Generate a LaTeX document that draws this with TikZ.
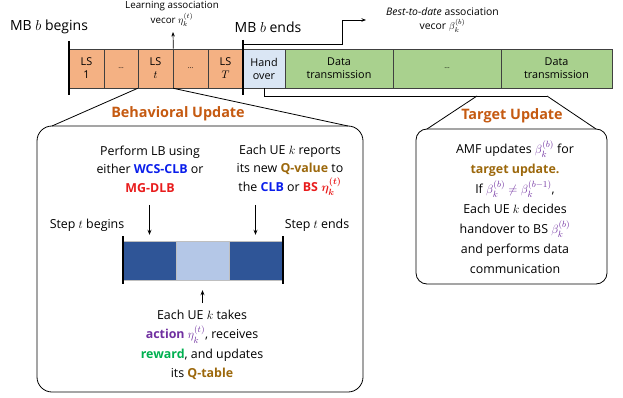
\documentclass[tikz,border=0pt]{standalone}
\usepackage{amsmath,amssymb}
\usepackage{fontspec}
\setmainfont{Open Sans}
\usetikzlibrary{arrows.meta}
\definecolor{cellorange}{HTML}{F4B183}
\definecolor{cellblue}{HTML}{DAE6F4}
\definecolor{cellgreen}{HTML}{A9D18E}
\definecolor{titleorange}{HTML}{C55A11}
\definecolor{qbrown}{RGB}{156,104,12}
\definecolor{kblue}{RGB}{10,30,235}
\definecolor{kred}{RGB}{232,28,28}
\definecolor{kpurple}{HTML}{7030A0}
\definecolor{kgreen}{HTML}{00B050}
\definecolor{bardark}{HTML}{2F5597}
\definecolor{barlight}{HTML}{B4C7E7}
\tikzset{
  cell/.style={draw=black!75, line width=0.6pt, minimum height=39pt, inner sep=0pt, align=center, font=\fontsize{10.8}{13}\selectfont},
  barcell/.style={draw=black!25, line width=0.4pt, minimum height=39pt, minimum width=53pt, inner sep=0pt},
  thick bar/.style={line width=1.8pt},
  arr/.style={-{Stealth[length=5pt,width=4pt]}, line width=0.9pt},
  thinarr/.style={-{Stealth[length=4.5pt,width=3.5pt]}, line width=0.7pt},
  boxtext/.style={align=center, font=\fontsize{12.4}{18.5}\selectfont, inner sep=0pt},
  title/.style={font=\fontsize{14.4}{16}\selectfont\bfseries, text=titleorange, inner sep=0pt},
  small/.style={align=center, font=\fontsize{9.8}{15}\selectfont, inner sep=0pt},
  outline/.style={line width=0.8pt}
}
\begin{document}
\begin{tikzpicture}[x=1pt,y=-1pt]
\path[use as bounding box] (0,0) rectangle (623,398);

% top labels
\node[font=\fontsize{14}{16}\selectfont, inner sep=0pt] (mbb) at (49,27) {MB $b$ begins};
\node[font=\fontsize{14}{16}\selectfont, inner sep=0pt] (mbe) at (268,27) {MB $b$ ends};
\node[small] (learn) at (172,14) {Learning association\\vecor $\eta_k^{(t)}$};
\node[small, anchor=west, font=\fontsize{10.4}{14}\selectfont] (best) at (386,20) {\textit{Best-to-date} association\\vecor $\beta_k^{(b)}$};

% top bar
\node[cell, fill=cellorange, minimum width=35pt] (ls1) at (86.5,68.5) {LS\\1};
\node[cell, fill=cellorange, minimum width=34pt] (d1) at (121,68.5) {\scriptsize\dots};
\node[cell, fill=cellorange, minimum width=35pt] (lst) at (155.5,68.5) {LS\\$t$};
\node[cell, fill=cellorange, minimum width=35pt] (d2) at (190.5,68.5) {\scriptsize\dots};
\node[cell, fill=cellorange, minimum width=35pt] (lsT) at (225.5,68.5) {LS\\$T$};
\node[cell, fill=cellblue, minimum width=42pt] (ho) at (264,68.5) {Hand\\over};
\node[cell, fill=cellgreen, minimum width=108pt] (dt1) at (339,68.5) {Data\\transmission};
\node[cell, fill=cellgreen, minimum width=108pt] (d3) at (447,68.5) {\scriptsize\dots};
\node[cell, fill=cellgreen, minimum width=111pt] (dt2) at (556.5,68.5) {Data\\transmission};

\draw[thick bar] (69,41) -- (69,95);
\draw[thick bar] (243,40) -- (243,95);

% arrows from top bar
\draw[thinarr] (lst.north east) -- (173,32);
\coordinate (bestend) at (366,20);
\draw[thinarr] (243,44) -- (342,44) -- (342,20) -- (bestend);
\coordinate (holine) at (547,96);
\draw[outline] (ho.south) -- (264,96) -- (holine);

% behavioral update box
\draw[outline, rounded corners=15pt] (37,126) rectangle (363,392);
\draw[outline] (lst.south west) -- (52,126);
\draw[outline] (lst.south east) -- (348,126);
\node[title] (bt) at (178,114) {Behavioral Update};

\node[boxtext] (perf) at (150,169) {Perform LB using\\either \textbf{\color{kblue}WCS-CLB} or\\\textbf{\color{kred}MG-DLB}};
\node[boxtext] (rep) at (290,170) {Each UE $k$ reports\\its new \textbf{\color{qbrown}Q-value} to\\the \textbf{\color{kblue}CLB} or \textbf{\color{kred}BS $\boldsymbol{\eta_k^{(t)}}$}};
\node[boxtext] (sb) at (87,225) {Step $t$ begins};
\node[boxtext] (se) at (317,225) {Step $t$ ends};

\node[barcell, fill=bardark] (b1) at (149.5,260.5) {};
\node[barcell, fill=barlight] (b2) at (202.5,260.5) {};
\node[barcell, fill=bardark] (b3) at (255.5,260.5) {};
\draw[thick bar] (123,236) -- (123,284);
\draw[thick bar] (283,236) -- (283,284);

\draw[arr] ([yshift=36pt]b1.north) -- ([yshift=6pt]b1.north);
\draw[arr] ([yshift=36pt]b3.north) -- ([yshift=6pt]b3.north);
\draw[arr] ([yshift=-23pt]b2.south) -- ([yshift=-10pt]b2.south);

\node[boxtext, font=\fontsize{12.4}{19.5}\selectfont] (act) at (202,345) {Each UE $k$ takes\\\textbf{\color{kpurple}action} {\color{kpurple}$\eta_k^{(t)}$}, receives\\\textbf{\color{kgreen}reward}, and updates\\its \textbf{\color{qbrown}Q-table}};

% target update box
\draw[outline, rounded corners=11pt] (416,129) rectangle (607,284);
\draw[outline] (477,96) -- (427,129);
\draw[outline] (holine) -- (596,129);
\node[title] (tt) at (512,116) {Target Update};
\node[boxtext, font=\fontsize{12.4}{20}\selectfont] (amf) at (515,207) {AMF updates {\color{kpurple}$\beta_k^{(b)}$} for\\\textbf{\color{qbrown}target update.}\\If {\color{kpurple}$\beta_k^{(b)}\neq\beta_k^{(b-1)}$},\\Each UE $k$ decides\\handover to BS {\color{kpurple}$\beta_k^{(b)}$}\\and performs data\\communication};
\end{tikzpicture}
\end{document}
